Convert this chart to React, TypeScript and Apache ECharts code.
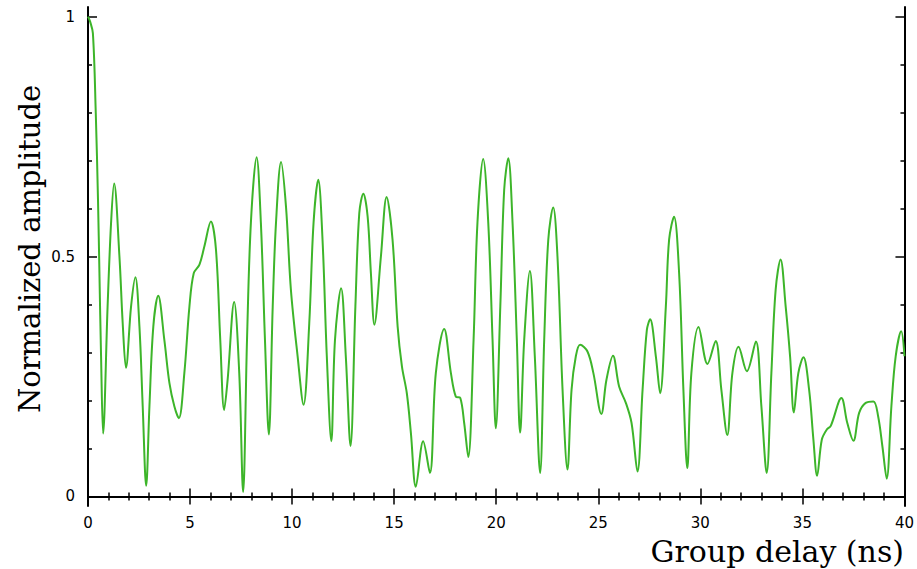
import React, { useEffect, useRef } from "react";
import * as echarts from "echarts";

const delayNs = [
  0, 0.1, 0.24, 0.38, 0.49, 0.56, 0.64, 0.74, 0.96, 1.13, 1.28, 1.54, 1.7, 1.86, 2.11, 2.32, 2.52, 2.68, 2.85,
  3.01, 3.2, 3.44, 3.74, 3.99, 4.23, 4.45, 4.72, 4.97, 5.18, 5.46, 5.7, 6.02, 6.27, 6.48, 6.67, 6.84, 7.16,
  7.41, 7.6, 7.79, 7.98, 8.26, 8.47, 8.67, 8.86, 9.05, 9.21, 9.46, 9.7, 9.94, 10.27, 10.56, 10.84, 11.05,
  11.28, 11.49, 11.7, 11.92, 12.1, 12.4, 12.63, 12.86, 13.1, 13.29, 13.49, 13.7, 13.86, 14.03, 14.35, 14.63,
  14.92, 15.17, 15.38, 15.62, 15.82, 16.06, 16.42, 16.75, 17.04, 17.45, 17.78, 18.02, 18.24, 18.43, 18.63,
  18.89, 19.08, 19.36, 19.61, 19.82, 19.98, 20.2, 20.39, 20.59, 20.8, 21.01, 21.17, 21.37, 21.65, 21.89,
  22.15, 22.35, 22.55, 22.79, 23.0, 23.25, 23.49, 23.69, 23.9, 24.11, 24.47, 24.76, 25.15, 25.4, 25.72,
  26.02, 26.35, 26.63, 26.92, 27.17, 27.38, 27.54, 27.82, 28.03, 28.31, 28.47, 28.71, 28.96, 29.17, 29.36,
  29.56, 29.91, 30.35, 30.75, 31.03, 31.32, 31.57, 31.87, 32.28, 32.72, 32.99, 33.25, 33.48, 33.69, 33.93,
  34.18, 34.4, 34.58, 34.8, 35.05, 35.33, 35.54, 35.72, 35.95, 36.19, 36.39, 36.91, 37.2, 37.5, 37.78, 38.1,
  38.48, 38.71, 38.92, 39.13, 39.36, 39.57, 39.84, 40.0,
];

const amplitude = [
  1.0, 0.99, 0.965, 0.8, 0.618, 0.465, 0.292, 0.131, 0.396, 0.57, 0.652, 0.5, 0.361, 0.268, 0.396, 0.457,
  0.354, 0.188, 0.022, 0.188, 0.354, 0.418, 0.326, 0.236, 0.188, 0.163, 0.257, 0.396, 0.465, 0.483, 0.521,
  0.573, 0.514, 0.326, 0.18, 0.243, 0.405, 0.257, 0.009, 0.326, 0.57, 0.707, 0.57, 0.326, 0.129, 0.396, 0.57,
  0.697, 0.604, 0.431, 0.292, 0.191, 0.361, 0.57, 0.66, 0.535, 0.292, 0.115, 0.326, 0.434, 0.292, 0.105,
  0.396, 0.59, 0.631, 0.583, 0.465, 0.358, 0.5, 0.624, 0.535, 0.354, 0.271, 0.215, 0.132, 0.02, 0.115, 0.049,
  0.257, 0.349, 0.257, 0.208, 0.205, 0.153, 0.082, 0.326, 0.57, 0.703, 0.57, 0.326, 0.142, 0.396, 0.639,
  0.705, 0.57, 0.326, 0.133, 0.326, 0.47, 0.292, 0.049, 0.326, 0.535, 0.602, 0.5, 0.222, 0.056, 0.222, 0.292,
  0.316, 0.302, 0.257, 0.172, 0.243, 0.293, 0.229, 0.195, 0.153, 0.052, 0.222, 0.347, 0.369, 0.292, 0.215,
  0.396, 0.535, 0.583, 0.465, 0.222, 0.059, 0.257, 0.353, 0.276, 0.324, 0.222, 0.128, 0.257, 0.312, 0.261,
  0.323, 0.188, 0.049, 0.257, 0.431, 0.494, 0.396, 0.29, 0.175, 0.257, 0.29, 0.222, 0.118, 0.043, 0.118,
  0.139, 0.147, 0.205, 0.153, 0.116, 0.174, 0.195, 0.198, 0.167, 0.104, 0.037, 0.188, 0.292, 0.344, 0.292,
];

const yMajorTicks = [0, 0.5, 1];
const yMinorTicks = [0.1, 0.2, 0.3, 0.4, 0.6, 0.7, 0.8, 0.9];
const xTitle = "Group delay (ns)";
const yTitle = "Normalized amplitude";

export default function App() {
  const ref = useRef<HTMLDivElement>(null);
  useEffect(() => {
    document.body.style.margin = "0";
    const chart = echarts.init(ref.current!, null, { renderer: "svg" });
    const black = "#000";
    const labelFont = { fontFamily: "DejaVu Sans", fontSize: 15, color: black, lineHeight: 15 };
    const baseY = (position: string, values: number[], len: number, labels: boolean, line: boolean) => ({
      type: "value",
      min: -0.02,
      max: 1.02,
      position,
      axisLine: { show: line, lineStyle: { color: black, width: 2 } },
      axisTick: { show: true, inside: true, length: len, customValues: values, lineStyle: { color: black, width: 1.5 } },
      axisLabel: labels
        ? { show: true, customValues: values, margin: 13, ...labelFont }
        : { show: false },
      splitLine: { show: false },
    });
    const baseX = (position: string, labels: boolean) => ({
      type: "value",
      min: 0,
      max: 40,
      interval: 5,
      position,
      axisLine: { show: true, lineStyle: { color: black, width: 2 } },
      axisTick: { show: true, inside: true, length: 8, lineStyle: { color: black, width: 1.5 } },
      minorTick: { show: true, splitNumber: 5, length: 4, lineStyle: { color: black, width: 1.5 } },
      axisLabel: labels ? { show: true, margin: 9, ...labelFont } : { show: false },
      splitLine: { show: false },
      minorSplitLine: { show: false },
    });
    chart.setOption({
      animation: false,
      grid: { left: 88, right: 11, top: 7, bottom: 63, containLabel: false },
      xAxis: [baseX("bottom", true), baseX("top", false)],
      yAxis: [
        baseY("left", yMajorTicks, 9, true, true),
        baseY("left", yMinorTicks, 4, false, false),
        baseY("right", yMajorTicks, 9, false, true),
        baseY("right", yMinorTicks, 4, false, false),
      ],
      graphic: [
        {
          type: "text",
          x: 904,
          y: 551,
          style: {
            text: xTitle,
            font: '30px "DejaVu Serif"',
            lineHeight: 28,
            fill: black,
            align: "right",
            verticalAlign: "middle",
          },
        },
        {
          type: "text",
          x: 30,
          y: 249,
          rotation: Math.PI / 2,
          style: {
            text: yTitle,
            font: '29px "DejaVu Serif"',
            fill: black,
            align: "center",
            verticalAlign: "middle",
          },
        },
      ],
      series: [
        {
          type: "line",
          xAxisIndex: 0,
          yAxisIndex: 0,
          data: delayNs.map((d, i) => [d, amplitude[i]]),
          showSymbol: false,
          smooth: 0.35,
          lineStyle: { color: "#3db52a", width: 2 },
          itemStyle: { color: "#3db52a" },
        },
      ],
    });
    return () => chart.dispose();
  }, []);
  return <div ref={ref} style={{ position: "absolute", left: 0, top: 0, width: 917, height: 569 }} />;
}
